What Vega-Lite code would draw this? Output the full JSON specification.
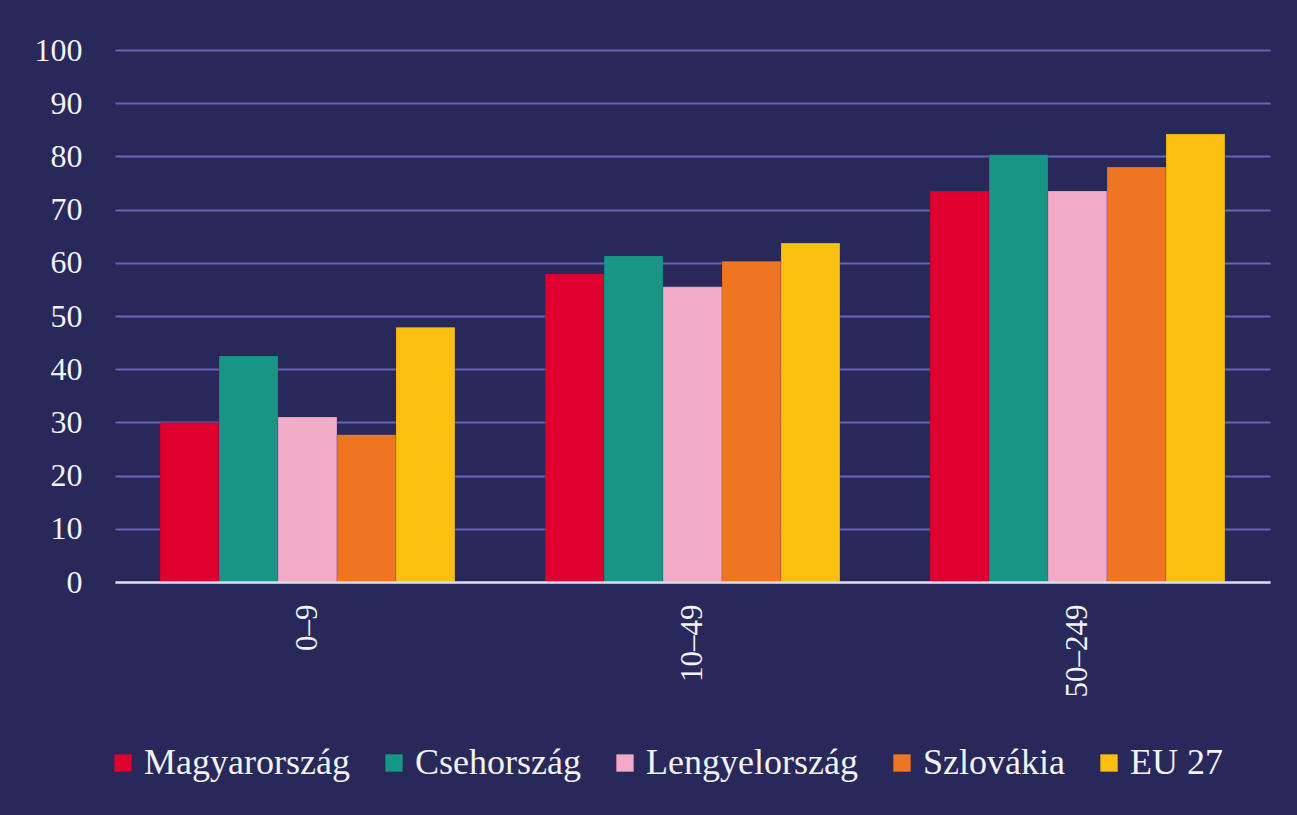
{
  "$schema": "https://vega.github.io/schema/vega-lite/v6.json",
  "autosize": {"type": "none"},
  "width": 1155,
  "height": 532,
  "padding": {"left": 115, "top": 50, "right": 27, "bottom": 233},
  "background": "#29285a",
  "config": {
    "view": {"stroke": null},
    "font": "Liberation Serif",
    "axis": {"labelFont": "Liberation Serif", "labelColor": "#f2f2f7"},
    "legend": {"labelFont": "Liberation Serif", "labelColor": "#f2f2f7"}
  },
  "data": {
    "values": [
      {"size": "0–9", "country": "Magyarország", "value": 30.0},
      {"size": "0–9", "country": "Csehország", "value": 42.5},
      {"size": "0–9", "country": "Lengyelország", "value": 31.0},
      {"size": "0–9", "country": "Szlovákia", "value": 27.7},
      {"size": "0–9", "country": "EU 27", "value": 47.9},
      {"size": "10–49", "country": "Magyarország", "value": 57.9},
      {"size": "10–49", "country": "Csehország", "value": 61.3},
      {"size": "10–49", "country": "Lengyelország", "value": 55.5},
      {"size": "10–49", "country": "Szlovákia", "value": 60.3},
      {"size": "10–49", "country": "EU 27", "value": 63.7},
      {"size": "50–249", "country": "Magyarország", "value": 73.5},
      {"size": "50–249", "country": "Csehország", "value": 80.3},
      {"size": "50–249", "country": "Lengyelország", "value": 73.5},
      {"size": "50–249", "country": "Szlovákia", "value": 78.0},
      {"size": "50–249", "country": "EU 27", "value": 84.2}
    ]
  },
  "mark": {"type": "bar", "stroke": "#29285a", "strokeOpacity": 0.25, "strokeWidth": 0.8},
  "encoding": {
    "x": {
      "field": "size",
      "type": "nominal",
      "sort": ["0–9", "10–49", "50–249"],
      "scale": {"paddingInner": 0.234, "paddingOuter": 0.117},
      "axis": {
        "title": null,
        "labelAngle": -90,
        "labelFontSize": 31,
        "labelPadding": 22,
        "ticks": false,
        "domainColor": "#dcdcec",
        "domainWidth": 2.5,
        "zindex": 1
      }
    },
    "xOffset": {
      "field": "country",
      "type": "nominal",
      "sort": ["Magyarország", "Csehország", "Lengyelország", "Szlovákia", "EU 27"],
      "scale": {"paddingInner": 0, "paddingOuter": 0}
    },
    "y": {
      "field": "value",
      "type": "quantitative",
      "scale": {"domain": [0, 100], "nice": false},
      "axis": {
        "title": null,
        "values": [0, 10, 20, 30, 40, 50, 60, 70, 80, 90, 100],
        "labelFontSize": 32,
        "labelPadding": 33,
        "ticks": false,
        "domain": false,
        "grid": true,
        "gridColor": "#6a63b8",
        "gridWidth": 2,
        "zindex": 0
      }
    },
    "color": {
      "field": "country",
      "type": "nominal",
      "sort": ["Magyarország", "Csehország", "Lengyelország", "Szlovákia", "EU 27"],
      "scale": {
        "domain": ["Magyarország", "Csehország", "Lengyelország", "Szlovákia", "EU 27"],
        "range": ["#e0002f", "#179686", "#f2abc6", "#ee7623", "#fbbf10"]
      },
      "legend": {
        "title": null,
        "orient": "bottom",
        "direction": "horizontal",
        "offset": 48,
        "padding": 0,
        "symbolType": "square",
        "symbolSize": 300,
        "symbolStrokeWidth": 0,
        "labelFontSize": 36,
        "labelLimit": 0,
        "labelOffset": 3,
        "columnPadding": 35,
        "symbolOffset": -10
      }
    }
  }
}
